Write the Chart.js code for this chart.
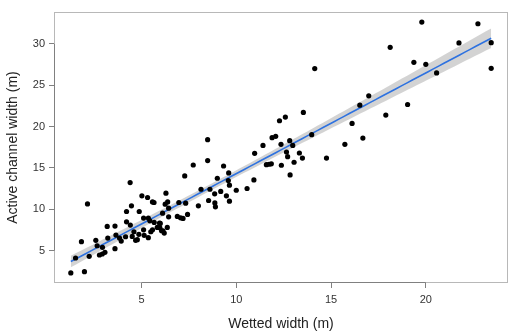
<!DOCTYPE html>
<html><head><meta charset="utf-8">
<script src="https://cdn.jsdelivr.net/npm/chart.js@4/dist/chart.umd.min.js"></script>
<style>html,body{margin:0;padding:0;background:#fff}#wrap{width:520px;height:336px}</style>
</head><body>
<div id="wrap"><canvas id="c" width="520" height="336"></canvas></div>
<script>
const wettedWidth = [
  1.27,1.52,1.83,1.99,2.15,2.24,2.59,2.66,2.78,2.93,2.94,3.07,3.19,3.22,3.60,3.65,3.84,3.93,3.60,4.16,
  4.21,4.21,4.41,4.40,4.47,4.51,4.69,4.86,4.88,5.02,5.11,5.11,5.14,5.32,5.36,5.36,5.49,5.58,5.58,5.66,
  5.67,5.83,5.99,6.13,6.20,6.36,6.11,6.29,6.25,6.38,6.43,6.43,6.97,6.89,7.06,7.19,7.33,7.43,7.28,7.73,
  8.00,8.14,8.49,8.49,8.54,8.61,8.86,8.87,8.90,9.00,9.18,9.33,9.48,9.58,9.60,9.64,9.64,10.00,10.57,10.93,
  10.97,11.41,11.59,11.73,11.85,11.89,12.08,12.28,12.36,12.38,12.59,12.65,12.71,12.82,12.84,12.98,13.05,13.33,13.49,13.54,
  13.98,14.14,14.76,15.73,16.11,16.52,16.68,16.99,17.89,18.12,19.04,19.37,19.79,20.00,20.57,21.75,22.75,23.45,23.45,
  4.60,4.78,5.44,5.95,5.97,6.06
];
const activeWidth = [
  2.31,4.12,6.09,2.47,10.66,4.32,6.25,5.60,4.48,4.60,5.41,4.80,7.94,6.53,7.98,6.89,6.53,6.17,5.24,6.69,
  9.74,8.49,8.10,13.24,10.42,6.73,6.25,6.98,9.74,11.63,8.94,7.53,6.86,11.43,8.94,6.57,7.29,7.53,10.90,10.83,
  8.42,7.82,8.30,7.41,7.13,7.82,9.54,11.95,10.63,10.90,10.14,9.10,10.83,9.14,8.98,8.90,10.75,9.39,14.04,15.36,
  10.42,12.43,15.89,18.42,11.07,12.43,11.87,10.78,10.30,13.76,12.16,15.24,11.63,13.48,14.40,12.92,10.99,12.31,12.52,13.55,
  16.77,17.73,15.40,15.45,15.50,18.66,18.82,20.71,17.86,15.33,21.15,16.93,16.37,18.30,14.16,17.73,15.69,16.81,16.20,21.71,
  19.02,27.01,16.20,17.86,20.39,22.59,18.61,23.72,21.39,29.58,22.67,27.77,32.64,27.53,26.49,30.11,32.43,30.14,27.05,
  7.29,6.33,8.61,8.34,7.77,7.41
];
const xTicks = [5, 10, 15, 20];
const yTicks = [5, 10, 15, 20, 25, 30];
const xTitle = 'Wetted width (m)';
const yTitle = 'Active channel width (m)';

// least-squares fit with 95% confidence band (derived from the data)
const n = wettedWidth.length;
const mx = wettedWidth.reduce((a,b)=>a+b,0)/n;
const my = activeWidth.reduce((a,b)=>a+b,0)/n;
let sxx=0, sxy=0;
for (let i=0;i<n;i++){ sxx += (wettedWidth[i]-mx)**2; sxy += (wettedWidth[i]-mx)*(activeWidth[i]-my); }
const slope = sxy/sxx, icpt = my - slope*mx;
let sse=0;
for (let i=0;i<n;i++){ sse += (activeWidth[i]-(icpt+slope*wettedWidth[i]))**2; }
const s = Math.sqrt(sse/(n-2)), tq = 1.98;
const xmin = Math.min(...wettedWidth), xmax = Math.max(...wettedWidth);
const ymin = Math.min(...activeWidth), ymax = Math.max(...activeWidth);
const fitLine=[], upper=[], lower=[];
for (let k=0;k<=80;k++){
  const x = xmin + (xmax-xmin)*k/80;
  const yh = icpt + slope*x;
  const se = s*Math.sqrt(1/n + (x-mx)**2/sxx);
  fitLine.push({x, y:yh}); upper.push({x, y:yh+tq*se}); lower.push({x, y:yh-tq*se});
}
const pts = wettedWidth.map((x,i)=>({x, y:activeWidth[i]}));

const boxPlugin = {
  id:'box',
  beforeDatasetsDraw(chart){
    const {ctx, chartArea:{left,right,top,bottom}, scales:{x,y}} = chart;
    ctx.save();
    ctx.lineWidth = 1;
    ctx.strokeStyle = '#b8b8b8';
    ctx.strokeRect(Math.round(left)+0.5, Math.round(top)+0.5, Math.round(right-left)-1, Math.round(bottom-top)-1);
    ctx.strokeStyle = '#808080';
    ctx.beginPath();
    ctx.moveTo(x.getPixelForValue(xTicks[0]), Math.round(bottom)-0.5);
    ctx.lineTo(x.getPixelForValue(xTicks[xTicks.length-1]), Math.round(bottom)-0.5);
    ctx.moveTo(Math.round(left)+0.5, y.getPixelForValue(yTicks[0]));
    ctx.lineTo(Math.round(left)+0.5, y.getPixelForValue(yTicks[yTicks.length-1]));
    ctx.stroke();
    ctx.restore();
  }
};

const tickFont = {family:'"Liberation Sans", Arial, sans-serif', size:11};
const titleFont = {family:'"Liberation Sans", Arial, sans-serif', size:14};

new Chart(document.getElementById('c'), {
  type:'scatter',
  data:{datasets:[
    {data:pts, order:0, pointRadius:2.6, pointHoverRadius:2.6, pointBackgroundColor:'#000', pointBorderWidth:0, showLine:false},
    {data:fitLine, order:1, showLine:true, pointRadius:0, borderColor:'#2e72e0', borderWidth:1.6, fill:false},
    {data:upper, order:2, showLine:true, pointRadius:0, borderWidth:0, borderColor:'rgba(0,0,0,0)', backgroundColor:'rgba(150,150,150,0.42)', fill:'+1'},
    {data:lower, order:3, showLine:true, pointRadius:0, borderWidth:0, borderColor:'rgba(0,0,0,0)', fill:false}
  ]},
  options:{
    responsive:false, animation:false, events:[],
    layout:{padding:{top:12, right:12, left:0, bottom:0}},
    plugins:{legend:{display:false}, tooltip:{enabled:false}},
    scales:{
      x:{
        type:'linear', min:xmin-0.04*(xmax-xmin), max:xmax+0.04*(xmax-xmin),
        afterBuildTicks:(ax)=>{ax.ticks = xTicks.map(v=>({value:v}));},
        afterFit:(ax)=>{ax.height = 53;},
        grid:{drawOnChartArea:false, drawTicks:true, tickLength:5, color:'#808080'},
        border:{display:false},
        ticks:{font:tickFont, color:'#333', padding:5, maxRotation:0, autoSkip:false},
        title:{display:true, text:xTitle, font:titleFont, color:'#222', padding:{top:0,bottom:3}}
      },
      y:{
        type:'linear', min:ymin-0.04*(ymax-ymin), max:ymax+0.04*(ymax-ymin),
        afterBuildTicks:(ax)=>{ax.ticks = yTicks.map(v=>({value:v}));},
        afterFit:(ax)=>{ax.width = 54;},
        grid:{drawOnChartArea:false, drawTicks:true, tickLength:5, color:'#808080'},
        border:{display:false},
        ticks:{font:tickFont, color:'#333', padding:4, autoSkip:false},
        title:{display:true, text:yTitle, font:titleFont, color:'#222', padding:{top:5,bottom:0}}
      }
    }
  },
  plugins:[boxPlugin]
});
</script>
</body></html>
